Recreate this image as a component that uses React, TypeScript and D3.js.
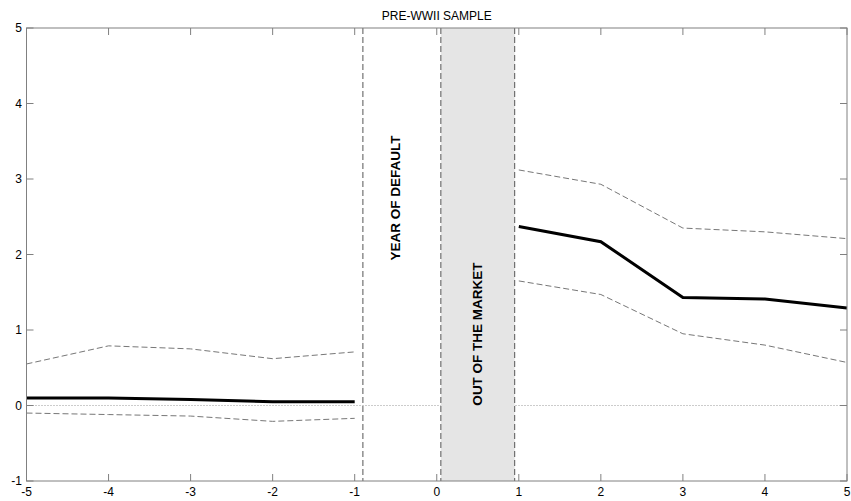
import React from "react";
import * as d3 from "d3";

const preYears = [-5, -4, -3, -2, -1];
const preMean = [0.1, 0.1, 0.08, 0.05, 0.05];
const preUpper = [0.55, 0.79, 0.75, 0.62, 0.71];
const preLower = [-0.1, -0.12, -0.14, -0.21, -0.17];

const postYears = [1, 2, 3, 4, 5];
const postMean = [2.37, 2.17, 1.43, 1.41, 1.29];
const postUpper = [3.12, 2.93, 2.35, 2.3, 2.21];
const postLower = [1.65, 1.47, 0.95, 0.8, 0.57];

const xTicks = [-5, -4, -3, -2, -1, 0, 1, 2, 3, 4, 5];
const yTicks = [-1, 0, 1, 2, 3, 4, 5];

const defaultLine = -0.9;
const marketBand = [0.05, 0.95];

const title = "PRE-WWII SAMPLE";
const defaultLabel = "YEAR OF DEFAULT";
const marketLabel = "OUT OF THE MARKET";

const W = 851;
const H = 501;
const left = 26.5;
const right = 847;
const top = 28;
const bottom = 481;

export default function App() {
  const x = d3.scaleLinear().domain([-5, 5]).range([left, right]);
  const y = d3.scaleLinear().domain([-1, 5]).range([bottom, top]);
  const line = d3
    .line<[number, number]>()
    .x((d) => x(d[0]))
    .y((d) => y(d[1]));
  const pts = (xs: number[], ys: number[]) =>
    xs.map((v, i) => [v, ys[i]] as [number, number]);
  const axisColor = "#808080";
  const font = "Liberation Sans, Arial, sans-serif";
  const tickLen = 7;

  return (
    <svg
      width={W}
      height={H}
      style={{ position: "absolute", left: 0, top: 0, background: "#fff" }}
    >
      <rect x={0} y={0} width={W} height={H} fill="#fff" />
      <line
        x1={x(-5)}
        x2={x(5)}
        y1={y(0)}
        y2={y(0)}
        stroke="#999"
        strokeWidth={1}
        strokeDasharray="1,2"
      />
      <rect
        x={x(marketBand[0])}
        y={y(5)}
        width={x(marketBand[1]) - x(marketBand[0])}
        height={y(-1) - y(5)}
        fill="#e5e5e5"
      />
      {[defaultLine, marketBand[0], marketBand[1]].map((v, i) => (
        <line
          key={i}
          x1={x(v)}
          x2={x(v)}
          y1={y(5)}
          y2={y(-1)}
          stroke="#555"
          strokeWidth={1}
          strokeDasharray="6,3"
        />
      ))}
      {[
        pts(preYears, preUpper),
        pts(preYears, preLower),
        pts(postYears, postUpper),
        pts(postYears, postLower),
      ].map((p, i) => (
        <path
          key={i}
          d={line(p) || ""}
          fill="none"
          stroke="#777"
          strokeWidth={1}
          strokeDasharray="6,3"
        />
      ))}
      {[pts(preYears, preMean), pts(postYears, postMean)].map((p, i) => (
        <path
          key={i}
          d={line(p) || ""}
          fill="none"
          stroke="#000"
          strokeWidth={3}
        />
      ))}
      <rect
        x={left}
        y={top}
        width={right - left}
        height={bottom - top}
        fill="none"
        stroke={axisColor}
        strokeWidth={1}
      />
      {xTicks.map((t) => (
        <g key={"x" + t}>
          <line x1={x(t)} x2={x(t)} y1={bottom} y2={bottom - tickLen} stroke={axisColor} />
          <line x1={x(t)} x2={x(t)} y1={top} y2={top + tickLen} stroke={axisColor} />
          <text
            x={x(t)}
            y={bottom + 15}
            textAnchor="middle"
            fontFamily={font}
            fontSize={12}
            fill="#000"
          >
            {t}
          </text>
        </g>
      ))}
      {yTicks.map((t) => (
        <g key={"y" + t}>
          <line x1={left} x2={left + tickLen} y1={y(t)} y2={y(t)} stroke={axisColor} />
          <line x1={right} x2={right - tickLen} y1={y(t)} y2={y(t)} stroke={axisColor} />
          <text
            x={left - 4.5}
            y={y(t) + 4.3}
            textAnchor="end"
            fontFamily={font}
            fontSize={12}
            fill="#000"
          >
            {t}
          </text>
        </g>
      ))}
      <text
        x={(left + right) / 2}
        y={19.5}
        textAnchor="middle"
        fontFamily={font}
        fontSize={12}
        fill="#000"
      >
        {title}
      </text>
      <text
        transform={`translate(${x(-0.5) + 4.5},198) rotate(-90)`}
        textAnchor="middle"
        fontFamily={font}
        fontSize={13.5}
        fontWeight="bold"
        fill="#000"
      >
        {defaultLabel}
      </text>
      <text
        transform={`translate(${x(0.5) + 4.5},334) rotate(-90)`}
        textAnchor="middle"
        fontFamily={font}
        fontSize={13.5}
        fontWeight="bold"
        fill="#000"
      >
        {marketLabel}
      </text>
    </svg>
  );
}
